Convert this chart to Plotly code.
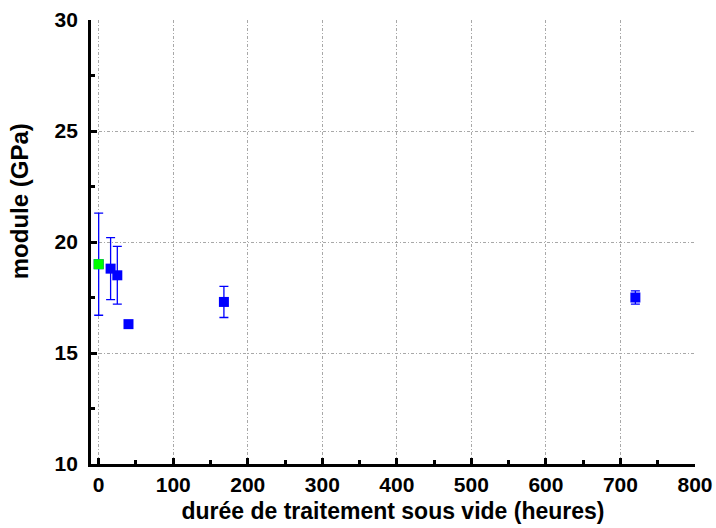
import plotly.graph_objects as go

# data
green_x = [0]
green_y = [19.0]
green_err = [2.3]

blue_x = [16, 25, 40, 168, 720]
blue_y = [18.8, 18.5, 16.3, 17.3, 17.5]
blue_err = [1.4, 1.3, 0, 0.7, 0.3]

x_ticks = [0, 100, 200, 300, 400, 500, 600, 700, 800]
y_ticks = [10, 15, 20, 25, 30]

x_title = "durée de traitement sous vide (heures)"
y_title = "module (GPa)"

font_family = "Liberation Sans, Arial, sans-serif"

fig = go.Figure()
# blue error bar for the point at 0 (drawn beneath the green marker)
fig.add_trace(go.Scatter(
    x=green_x, y=green_y, mode="markers",
    marker=dict(symbol="square", size=10, color="blue"),
    error_y=dict(type="data", array=green_err, visible=True, color="blue", thickness=1.3, width=4.5),
    showlegend=False, cliponaxis=False))
fig.add_trace(go.Scatter(
    x=green_x, y=green_y, mode="markers",
    marker=dict(symbol="square", size=10, color="#00ff00"),
    showlegend=False, cliponaxis=False))
fig.add_trace(go.Scatter(
    x=blue_x, y=blue_y, mode="markers",
    marker=dict(symbol="square", size=10, color="blue"),
    error_y=dict(type="data", array=blue_err, visible=True, color="blue", thickness=1.3, width=4.5),
    showlegend=False, cliponaxis=False))

axis_common = dict(
    showline=True, linecolor="black", linewidth=3, mirror=False,
    ticks="inside", ticklen=6, tickwidth=3, tickcolor="black",
    showgrid=True, gridcolor="#a8a8a8", gridwidth=1, griddash="3px,2px,1px,2px",
    zeroline=False, automargin=False,
    tickfont=dict(family=font_family, size=21, color="black"),
    title_font=dict(family=font_family, size=23, color="black"),
)

fig.update_layout(
    width=716, height=528,
    margin=dict(l=91, r=21, t=20, b=64),
    plot_bgcolor="white", paper_bgcolor="white",
    xaxis=dict(range=[-10.3, 800], tickmode="array", tickvals=x_ticks,
               ticktext=["<b>%d</b>" % v for v in x_ticks],
               minor=dict(dtick=50, tick0=0, ticks="inside", ticklen=4, tickwidth=3, tickcolor="black", showgrid=False),
               title=dict(text="<b>" + x_title + "</b>", standoff=8),
               **axis_common),
    yaxis=dict(range=[10, 30], tickmode="array", tickvals=y_ticks,
               ticktext=["<b>%d\u00a0</b>" % v for v in y_ticks],
               minor=dict(dtick=2.5, tick0=10, ticks="inside", ticklen=4, tickwidth=3, tickcolor="black", showgrid=False),
               **axis_common),
    annotations=[dict(text="<b>" + y_title + "</b>", textangle=-90,
                      xref="paper", yref="paper", x=-0.119, y=0.592,
                      xanchor="center", yanchor="middle", showarrow=False,
                      font=dict(family=font_family, size=24, color="black"))],
)

fig.write_html("out.html", config={"displayModeBar": False},
               post_script="document.body.style.margin='0';document.body.style.overflow='hidden';")
